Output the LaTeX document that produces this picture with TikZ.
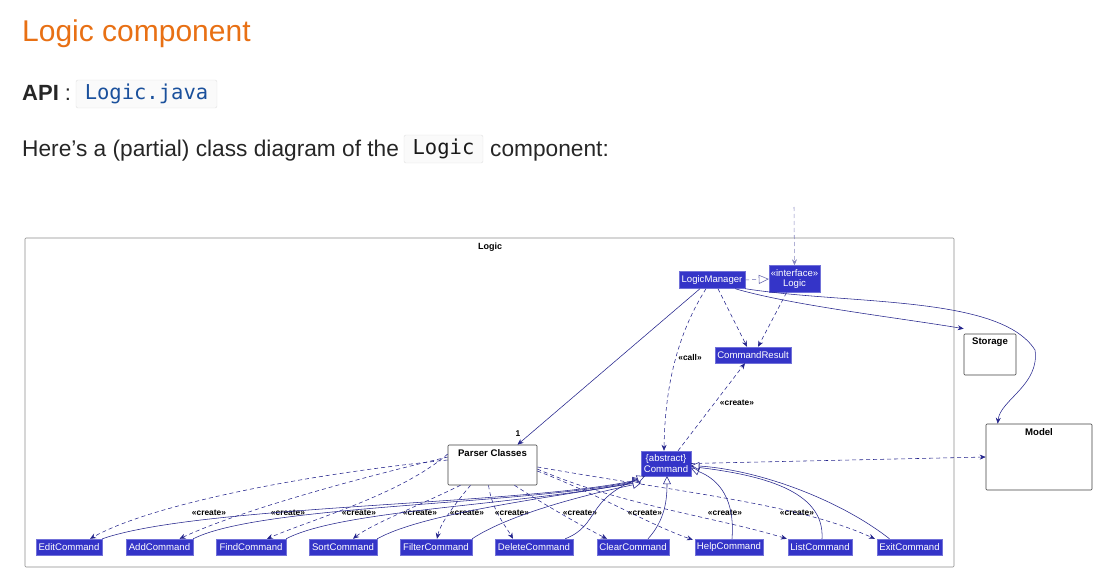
\documentclass[tikz,border=0pt]{standalone}
\usepackage{fontspec}
\setmainfont{Liberation Sans}
\setmonofont{DejaVu Sans Mono}
\usetikzlibrary{arrows.meta,positioning}

\definecolor{umlFill}{RGB}{52,52,200}
\definecolor{umlLine}{RGB}{36,36,140}
\definecolor{titleOrange}{RGB}{232,112,20}
\definecolor{codeBlue}{RGB}{26,80,156}

\begin{document}
\begin{tikzpicture}[
  x=1pt,y=-1pt,>=Stealth,
  font=\fontsize{10}{12}\selectfont,
  cls/.style={fill=umlFill,draw=umlFill!70,text=white,inner sep=1pt,align=center,
    font=\fontsize{9.6}{10.5}\selectfont},
  pkg/.style={draw=black!75,fill=white,rounded corners=1pt,line width=.6pt},
  pkgTitle/.style={anchor=north,inner sep=0pt,font=\fontsize{9.6}{11}\selectfont\bfseries},
  stereo/.style={inner sep=0pt,font=\fontsize{8.4}{9}\selectfont\bfseries},
  codeBox/.style={draw=black!12,fill=black!2,rounded corners=2pt,inner sep=0pt,
    font=\fontsize{20.5}{24}\ttfamily},
  assoc/.style={umlLine,line width=.55pt,-{Stealth[length=6pt,width=5pt,inset=2pt]}},
  depend/.style={umlLine,line width=.55pt,dash pattern=on 4pt off 3pt,
    -{Stealth[length=6pt,width=5pt,inset=2pt]}},
  inherit/.style={umlLine,line width=.55pt,-{Triangle[open,length=8pt,width=8pt,fill=white]}}
]
\useasboundingbox (0,0) rectangle (1105,575);

% page text
\node[anchor=base west,inner sep=0pt,text=titleOrange,font=\fontsize{30}{34}\selectfont]
  (pageTitle) at (22,42) {Logic component};
\node[anchor=base west,inner sep=0pt,text=black!85,font=\fontsize{22}{26}\selectfont]
  (apiLbl) at (22,101) {\textbf{API} :};
\node[codeBox,text=codeBlue,minimum width=141,minimum height=28] (apiCode) at (146.5,94) {Logic.java};
\node[anchor=base west,inner sep=0pt,text=black!85,font=\fontsize{22.7}{26}\selectfont]
  (introTxt) at (22,157) {Here’s a (partial) class diagram of the};
\node[codeBox,text=black!90,minimum width=79,minimum height=28] (introCode) at (443.5,149) {Logic};
\node[anchor=base west,inner sep=0pt,text=black!85,font=\fontsize{22.7}{26}\selectfont]
  (introEnd) at (490,157) {component:};

% packages
\node[pkg,draw=black!45,minimum width=929,minimum height=329] (logicPkg) at (489.5,402.5) {};
\node[pkgTitle,font=\fontsize{9}{10}\selectfont\bfseries] (logicTitle) at (490,243) {Logic};
\node[pkg,minimum width=89,minimum height=40] (parser) at (492.5,465) {};
\node[pkgTitle] (parserTitle) at (492.5,449) {Parser Classes};
\node[pkg,minimum width=52,minimum height=41] (storage) at (990,354.5) {};
\node[pkgTitle] (storageTitle) at (990,338) {Storage};
\node[pkg,minimum width=106,minimum height=66] (model) at (1039,457) {};
\node[pkgTitle] (modelTitle) at (1039,428) {Model};

% classes
\node[cls,minimum width=66,minimum height=17] (mgr) at (712,280) {LogicManager};
\node[cls,minimum width=51,minimum height=27] (logicIf) at (794.5,279) {«interface»\\Logic};
\node[cls,minimum width=76,minimum height=16] (result) at (753,355) {CommandResult};
\node[cls,minimum width=50,minimum height=25] (cmd) at (666,463.5) {\{abstract\}\\Command};
\node[cls,minimum width=66,minimum height=16] (editCmd) at (69,547) {EditCommand};
\node[cls,minimum width=67,minimum height=16] (addCmd) at (159.5,547) {AddCommand};
\node[cls,minimum width=70,minimum height=16] (findCmd) at (251,547) {FindCommand};
\node[cls,minimum width=68,minimum height=16] (sortCmd) at (343,547) {SortCommand};
\node[cls,minimum width=72,minimum height=16] (filterCmd) at (436,547) {FilterCommand};
\node[cls,minimum width=78,minimum height=16] (deleteCmd) at (534,547) {DeleteCommand};
\node[cls,minimum width=72,minimum height=16] (clearCmd) at (633,547) {ClearCommand};
\node[cls,minimum width=68,minimum height=16] (helpCmd) at (729,547) {HelpCommand};
\node[cls,minimum width=64,minimum height=16] (listCmd) at (820,547) {ListCommand};
\node[cls,minimum width=65,minimum height=16] (exitCmd) at (909.5,547) {ExitCommand};

% top level connectors
\coordinate (userSide) at (794,207);
\draw[depend,umlLine!55] (userSide) -- (logicIf.north);
\draw[umlLine!70,line width=.55pt,dash pattern=on 4pt off 3pt,
  -{Triangle[open,length=10pt,width=9pt,fill=white]}] (mgr.east) -- (logicIf.west);
\draw[depend] ([xshift=6pt]mgr.south) -- ([xshift=-6pt]result.north);
\draw[depend] ([xshift=-8pt]logicIf.south) -- ([xshift=5pt]result.north);
\draw[assoc] ([xshift=-12pt]mgr.south) -- ([xshift=25pt]parser.north);
\node[stereo] (oneLbl) at (518,434) {1};
\draw[depend] ([xshift=-6pt]mgr.south) .. controls (680,330) and (665,380) .. ([xshift=-2pt]cmd.north);
\node[stereo] (callLbl) at (690,357) {«call»};
\draw[depend] ([xshift=12pt]cmd.north) -- ([xshift=-8pt]result.south);
\node[stereo] (crLbl) at (737,403) {«create»};
\draw[assoc] ([xshift=-10pt]mgr.south east) .. controls (790,305) and (900,318) .. ([yshift=5pt]storage.north west);
\draw[assoc] (mgr.south east) .. controls (850,305) and (1000,295) .. (1035,350)
  .. controls (1040,385) and (1000,400) .. ([xshift=12pt]model.north west);
\draw[depend] (cmd.east) -- (model.west);

% parser creates commands
\draw[depend] ([yshift=5pt]parser.west) .. controls (300,475) and (150,505) .. ([xshift=21pt]editCmd.north);
\draw[depend] ([yshift=8pt]parser.west) .. controls (330,485) and (230,515) .. ([xshift=20pt]addCmd.north);
\draw[depend] ([yshift=11pt]parser.west) .. controls (400,495) and (310,520) .. ([xshift=16pt]findCmd.north);
\draw[depend] ([xshift=-32pt]parser.south) .. controls (420,505) and (370,525) .. ([xshift=10pt]sortCmd.north);
\draw[depend] ([xshift=-22pt]parser.south) .. controls (450,510) and (440,525) .. ([xshift=1pt]filterCmd.north);
\draw[depend] ([xshift=-4pt]parser.south) .. controls (492,510) and (505,525) .. ([xshift=-21pt]deleteCmd.north);
\draw[depend] ([xshift=22pt]parser.south) .. controls (545,505) and (580,525) .. ([xshift=-26pt]clearCmd.north);
\draw[depend] ([yshift=-6pt]parser.east) .. controls (600,495) and (650,525) .. ([xshift=-2pt,yshift=-1pt]helpCmd.north west);
\node[stereo] (crEdit) at (209,513) {«create»};
\node[stereo] (crAdd) at (288,513) {«create»};
\node[stereo] (crFind) at (359,513) {«create»};
\node[stereo] (crSort) at (420,513) {«create»};
\node[stereo] (crFilter) at (467,513) {«create»};
\node[stereo] (crDelete) at (512,513) {«create»};
\node[stereo] (crClear) at (580,513) {«create»};
\node[stereo] (crHelp) at (645,513) {«create»};
\node[stereo] (crList) at (725,513) {«create»};
\node[stereo] (crExit) at (797,513) {«create»};
\draw[depend] ([yshift=-4pt]parser.east) .. controls (620,505) and (720,518) .. ([xshift=-1pt]listCmd.north west);
\draw[depend] ([yshift=-2pt]parser.east) .. controls (700,495) and (800,505) .. ([xshift=-2pt]exitCmd.north west);

% commands extend Command
\draw[inherit] (editCmd.north east) .. controls (200,505) and (520,505) .. ([yshift=-3pt]cmd.south west);
\draw[inherit] (addCmd.north east) .. controls (260,505) and (520,505) .. ([yshift=-4pt]cmd.south west);
\draw[inherit] (findCmd.north east) .. controls (340,510) and (520,505) .. ([yshift=-5pt]cmd.south west);
\draw[inherit] (sortCmd.north east) .. controls (420,515) and (530,500) .. ([yshift=-6pt]cmd.south west);
\draw[inherit] (filterCmd.north east) .. controls (500,520) and (560,500) .. ([yshift=-7pt]cmd.south west);
\draw[inherit] ([xshift=-8pt]deleteCmd.north east) .. controls (600,525) and (585,500) .. ([xshift=4pt]cmd.south west);
\draw[inherit] ([xshift=15pt]clearCmd.north) .. controls (665,520) and (667,500) .. ([xshift=1pt]cmd.south);
\draw[inherit] ([xshift=3pt]helpCmd.north) .. controls (735,500) and (720,480) .. ([yshift=-5pt]cmd.east);
\draw[inherit] ([xshift=2pt]listCmd.north) .. controls (825,490) and (760,475) .. ([yshift=-3pt]cmd.east);
\draw[inherit] ([xshift=-20pt]exitCmd.north) .. controls (840,500) and (760,470) .. ([yshift=-2pt]cmd.east);
\end{tikzpicture}
\end{document}
